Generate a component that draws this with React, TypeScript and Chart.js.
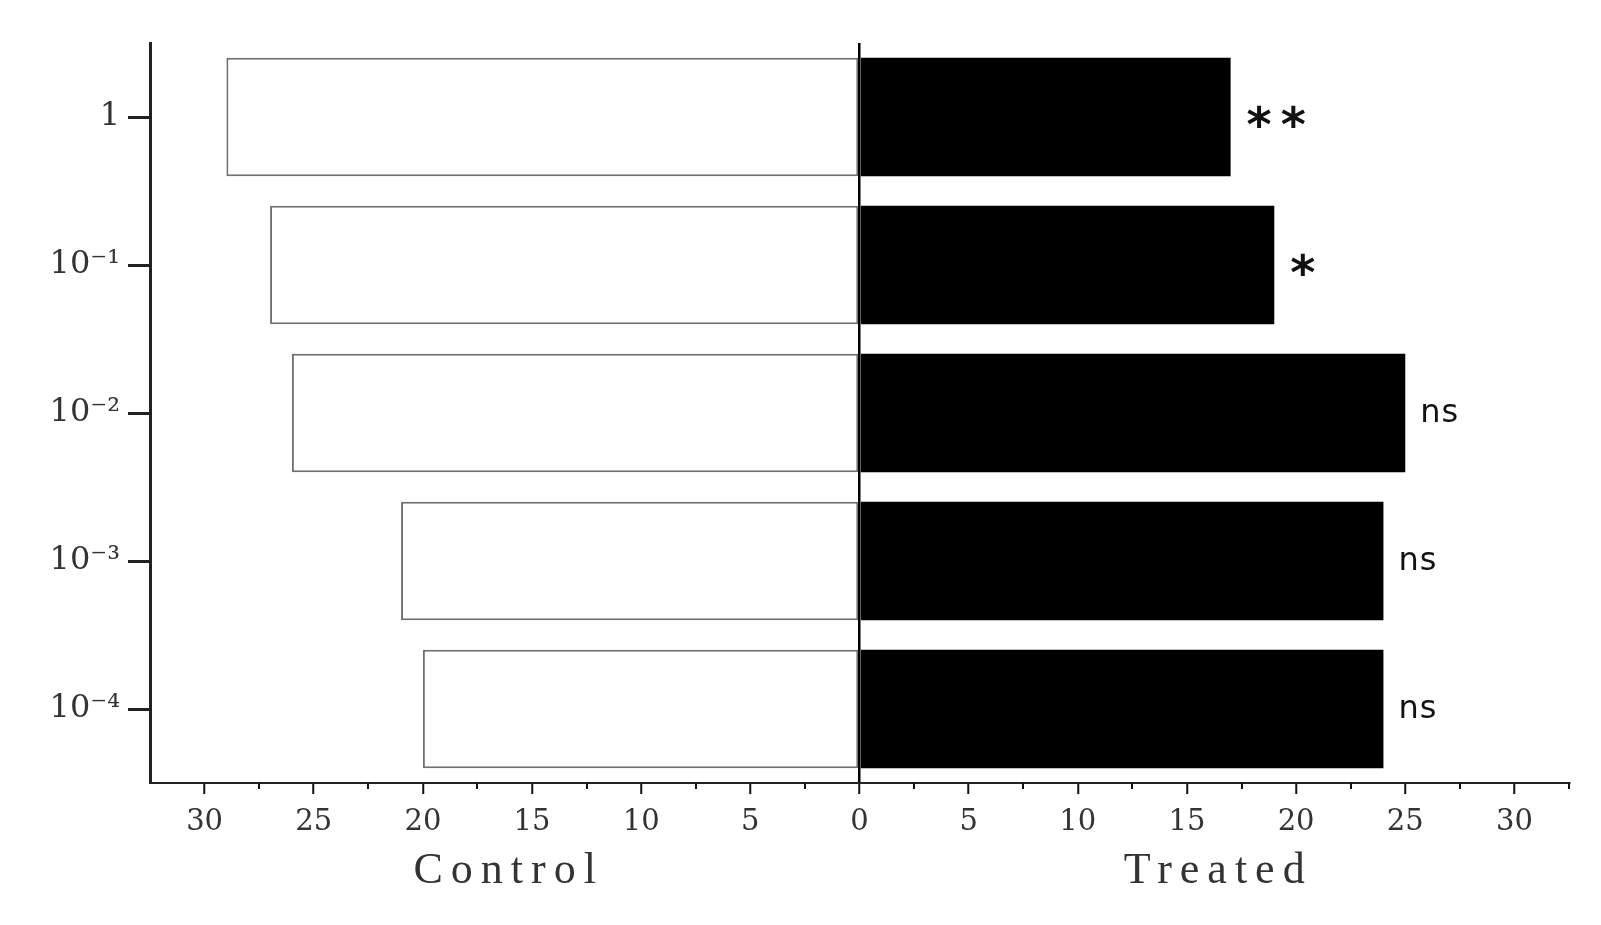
import React, { useEffect, useRef } from "react";
import { Chart, registerables } from "chart.js";

Chart.register(...registerables);

// ---- data ----
const categories = ["1", "10⁻¹", "10⁻²", "10⁻³", "10⁻⁴"];
const controlValues = [29, 27, 26, 21, 20];
const treatedValues = [17, 19, 25, 24, 24];
const significance = ["**", "*", "ns", "ns", "ns"];
const xTickValues = [-30, -25, -20, -15, -10, -5, 0, 5, 10, 15, 20, 25, 30];
const xMinorTickValues = [-27.5, -22.5, -17.5, -12.5, -7.5, -2.5, 2.5, 7.5, 12.5, 17.5, 22.5, 27.5, 32.5];
const axisTitles = ["Control", "Treated"];
const X_MIN = -32.5;
const X_MAX = 32.5;

const decorPlugin = {
  id: "decor",
  afterDraw(chart: any) {
    const ctx = chart.ctx as CanvasRenderingContext2D;
    const xs = chart.scales.x;
    const area = chart.chartArea;
    ctx.save();
    // minor ticks
    ctx.strokeStyle = "#111";
    ctx.lineWidth = 2;
    xMinorTickValues.forEach((v) => {
      const px = Math.round(xs.getPixelForValue(v));
      ctx.beginPath();
      ctx.moveTo(px, area.bottom);
      ctx.lineTo(px, area.bottom + 6);
      ctx.stroke();
    });
    // axis titles
    ctx.fillStyle = "#333";
    ctx.font = "44px 'Liberation Serif'";
    (ctx as any).letterSpacing = "8px";
    ctx.textAlign = "center";
    ctx.textBaseline = "middle";
    const p0 = xs.getPixelForValue(0);
    const pl = xs.getPixelForValue(X_MIN);
    const pr = xs.getPixelForValue(X_MAX);
    ctx.fillText(axisTitles[0], (pl + p0) / 2 + 4, 871);
    ctx.fillText(axisTitles[1], (p0 + pr) / 2 + 4, 871);
    // significance marks
    const meta = chart.getDatasetMeta(1);
    meta.data.forEach((bar: any, i: number) => {
      const s = significance[i];
      ctx.textAlign = "left";
      ctx.textBaseline = "alphabetic";
      ctx.fillStyle = "#111";
      if (s.startsWith("*")) {
        ctx.font = "bold 48px 'DejaVu Sans'";
        (ctx as any).letterSpacing = "9px";
        ctx.fillText(s, bar.x + 16, bar.y + 24);
      } else {
        ctx.font = "32px 'DejaVu Sans'";
        (ctx as any).letterSpacing = "1px";
        ctx.fillText(s, bar.x + 15, bar.y + 9);
      }
    });
    ctx.restore();
  },
};

export default function App() {
  const canvasRef = useRef<HTMLCanvasElement | null>(null);

  useEffect(() => {
    if (!canvasRef.current) return;
    const chart = new Chart(canvasRef.current, {
      type: "bar",
      data: {
        labels: categories,
        datasets: [
          {
            label: "Control",
            data: controlValues.map((v) => -v),
            backgroundColor: "#ffffff",
            borderColor: "#707070",
            borderWidth: 2,
            borderSkipped: false,
            barPercentage: 0.8,
            categoryPercentage: 1,
          },
          {
            label: "Treated",
            data: treatedValues,
            backgroundColor: "#000000",
            borderWidth: 0,
            barPercentage: 0.8,
            categoryPercentage: 1,
          },
        ],
      },
      options: {
        indexAxis: "y",
        animation: false,
        responsive: false,
        layout: { padding: { left: 0, right: 32, top: 43, bottom: 82 } },
        plugins: { legend: { display: false }, tooltip: { enabled: false } },
        scales: {
          x: {
            type: "linear",
            stacked: true,
            min: X_MIN,
            max: X_MAX,
            afterFit: (scale: any) => {
              scale.height = 60;
            },
            afterBuildTicks: (scale: any) => {
              scale.ticks = xTickValues.map((v) => ({ value: v }));
            },
            ticks: {
              callback: (v: any) => String(Math.abs(Number(v))),
              color: "#333",
              font: { family: "'DejaVu Serif'", size: 29 },
              padding: 11,
              maxRotation: 0,
              autoSkip: false,
            },
            grid: {
              drawOnChartArea: true,
              color: (c: any) => (c.tick && c.tick.value === 0 ? "#000" : "rgba(0,0,0,0)"),
              lineWidth: 2.5,
              tickColor: "#111",
              tickLength: 11,
              tickWidth: 2,
            },
            border: { display: true, color: "#222", width: 2 },
          },
          y: {
            type: "category",
            stacked: true,
            afterFit: (scale: any) => {
              scale.width = 150;
            },
            ticks: {
              color: "#333",
              font: { family: "'DejaVu Serif'", size: 32 },
              padding: 8,
              autoSkip: false,
            },
            grid: {
              offset: false,
              drawOnChartArea: false,
              tickLength: 22,
              tickWidth: 3,
              tickColor: "#222",
            },
            border: { display: true, color: "#222", width: 3 },
          },
        },
      },
      plugins: [decorPlugin],
    });
    return () => chart.destroy();
  }, []);

  return (
    <div style={{ position: "fixed", left: 0, top: 0, width: 1601, height: 925, background: "#fff" }}>
      <canvas ref={canvasRef} width={1601} height={925} style={{ display: "block" }} />
    </div>
  );
}
